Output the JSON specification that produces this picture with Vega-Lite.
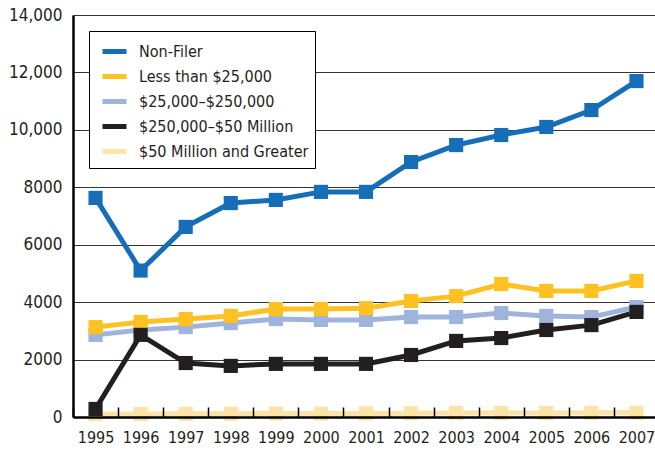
{
  "$schema": "https://vega.github.io/schema/vega-lite/v6.json",
  "width": 586,
  "height": 402,
  "autosize": {"type": "none"},
  "padding": {"left": 73, "top": 15, "right": 0, "bottom": 35},
  "background": "white",
  "config": {
    "view": {"stroke": null},
    "font": "DejaVu Sans Condensed, sans-serif"
  },
  "data": {
    "values": [
      {"year": "1995", "series": "$50 Million and Greater", "value": 100},
      {"year": "1996", "series": "$50 Million and Greater", "value": 105},
      {"year": "1997", "series": "$50 Million and Greater", "value": 110},
      {"year": "1998", "series": "$50 Million and Greater", "value": 115},
      {"year": "1999", "series": "$50 Million and Greater", "value": 120},
      {"year": "2000", "series": "$50 Million and Greater", "value": 120},
      {"year": "2001", "series": "$50 Million and Greater", "value": 125},
      {"year": "2002", "series": "$50 Million and Greater", "value": 130},
      {"year": "2003", "series": "$50 Million and Greater", "value": 140},
      {"year": "2004", "series": "$50 Million and Greater", "value": 145},
      {"year": "2005", "series": "$50 Million and Greater", "value": 140},
      {"year": "2006", "series": "$50 Million and Greater", "value": 145},
      {"year": "2007", "series": "$50 Million and Greater", "value": 150},
      {"year": "1995", "series": "$25,000–$250,000", "value": 2860},
      {"year": "1996", "series": "$25,000–$250,000", "value": 3030},
      {"year": "1997", "series": "$25,000–$250,000", "value": 3130},
      {"year": "1998", "series": "$25,000–$250,000", "value": 3270},
      {"year": "1999", "series": "$25,000–$250,000", "value": 3410},
      {"year": "2000", "series": "$25,000–$250,000", "value": 3380},
      {"year": "2001", "series": "$25,000–$250,000", "value": 3380},
      {"year": "2002", "series": "$25,000–$250,000", "value": 3480},
      {"year": "2003", "series": "$25,000–$250,000", "value": 3480},
      {"year": "2004", "series": "$25,000–$250,000", "value": 3620},
      {"year": "2005", "series": "$25,000–$250,000", "value": 3520},
      {"year": "2006", "series": "$25,000–$250,000", "value": 3480},
      {"year": "2007", "series": "$25,000–$250,000", "value": 3830},
      {"year": "1995", "series": "Less than $25,000", "value": 3130},
      {"year": "1996", "series": "Less than $25,000", "value": 3310},
      {"year": "1997", "series": "Less than $25,000", "value": 3410},
      {"year": "1998", "series": "Less than $25,000", "value": 3520},
      {"year": "1999", "series": "Less than $25,000", "value": 3760},
      {"year": "2000", "series": "Less than $25,000", "value": 3760},
      {"year": "2001", "series": "Less than $25,000", "value": 3790},
      {"year": "2002", "series": "Less than $25,000", "value": 4040},
      {"year": "2003", "series": "Less than $25,000", "value": 4210},
      {"year": "2004", "series": "Less than $25,000", "value": 4630},
      {"year": "2005", "series": "Less than $25,000", "value": 4390},
      {"year": "2006", "series": "Less than $25,000", "value": 4390},
      {"year": "2007", "series": "Less than $25,000", "value": 4740},
      {"year": "1995", "series": "$250,000–$50 Million", "value": 280},
      {"year": "1996", "series": "$250,000–$50 Million", "value": 2860},
      {"year": "1997", "series": "$250,000–$50 Million", "value": 1880},
      {"year": "1998", "series": "$250,000–$50 Million", "value": 1780},
      {"year": "1999", "series": "$250,000–$50 Million", "value": 1850},
      {"year": "2000", "series": "$250,000–$50 Million", "value": 1850},
      {"year": "2001", "series": "$250,000–$50 Million", "value": 1850},
      {"year": "2002", "series": "$250,000–$50 Million", "value": 2160},
      {"year": "2003", "series": "$250,000–$50 Million", "value": 2650},
      {"year": "2004", "series": "$250,000–$50 Million", "value": 2750},
      {"year": "2005", "series": "$250,000–$50 Million", "value": 3030},
      {"year": "2006", "series": "$250,000–$50 Million", "value": 3200},
      {"year": "2007", "series": "$250,000–$50 Million", "value": 3660},
      {"year": "1995", "series": "Non-Filer", "value": 7630},
      {"year": "1996", "series": "Non-Filer", "value": 5100},
      {"year": "1997", "series": "Non-Filer", "value": 6620},
      {"year": "1998", "series": "Non-Filer", "value": 7450},
      {"year": "1999", "series": "Non-Filer", "value": 7560},
      {"year": "2000", "series": "Non-Filer", "value": 7840},
      {"year": "2001", "series": "Non-Filer", "value": 7840},
      {"year": "2002", "series": "Non-Filer", "value": 8880},
      {"year": "2003", "series": "Non-Filer", "value": 9470},
      {"year": "2004", "series": "Non-Filer", "value": 9820},
      {"year": "2005", "series": "Non-Filer", "value": 10100},
      {"year": "2006", "series": "Non-Filer", "value": 10690},
      {"year": "2007", "series": "Non-Filer", "value": 11700}
    ]
  },
  "mark": {
    "type": "line",
    "strokeWidth": 5,
    "point": {"shape": "square", "size": 200, "filled": true, "opacity": 1}
  },
  "encoding": {
    "x": {
      "field": "year",
      "type": "ordinal",
      "sort": null,
      "bandPosition": 0.5,
      "scale": {"type": "band", "paddingInner": 0, "paddingOuter": 0},
      "axis": {
        "title": null,
        "labelAngle": 0,
        "tickBand": "extent",
        "tickSize": -10,
        "tickColor": "black",
        "tickWidth": 1.5,
        "domainColor": "black",
        "domainWidth": 2.5,
        "labelFontSize": 16,
        "labelColor": "#231f20",
        "labelPadding": 22,
        "zindex": 1
      }
    },
    "y": {
      "field": "value",
      "type": "quantitative",
      "scale": {"domain": [0, 14000], "nice": false},
      "axis": {
        "title": null,
        "values": [0, 2000, 4000, 6000, 8000, 10000, 12000, 14000],
        "labelExpr": "datum.value >= 10000 ? format(datum.value, ',') : format(datum.value, 'd')",
        "ticks": false,
        "tickSize": 0,
        "labelPadding": 11,
        "labelFontSize": 17,
        "labelColor": "#231f20",
        "grid": true,
        "gridColor": "#333333",
        "gridWidth": 1.2,
        "domainColor": "black",
        "domainWidth": 2.5
      }
    },
    "color": {
      "field": "series",
      "type": "nominal",
      "scale": {
        "domain": ["Non-Filer", "Less than $25,000", "$25,000–$250,000", "$250,000–$50 Million", "$50 Million and Greater"],
        "range": ["#166eb8", "#fdc121", "#9fb4dc", "#231f20", "#fde3a7"]
      },
      "legend": {
        "title": null,
        "orient": "none",
        "legendX": 16,
        "legendY": 16,
        "symbolType": "stroke",
        "symbolSize": 576,
        "symbolStrokeWidth": 5,
        "symbolOffset": 5,
        "labelFontSize": 16,
        "labelLimit": 0,
        "labelColor": "#231f20",
        "labelOffset": 10,
        "rowPadding": 0,
        "padding": 6,
        "strokeColor": "black",
        "fillColor": "white"
      }
    }
  }
}
